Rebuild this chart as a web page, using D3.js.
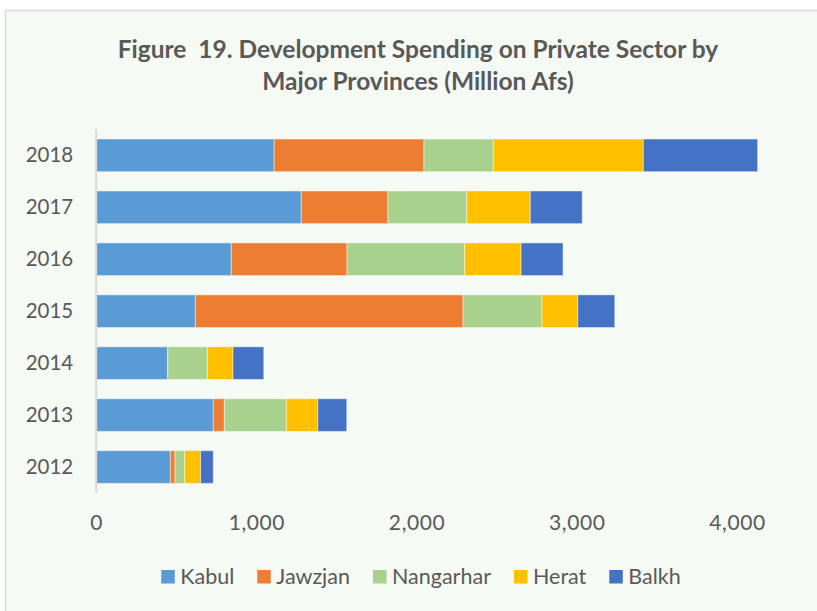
<!DOCTYPE html>
<html>
<head>
<meta charset="utf-8">
<script src="https://cdn.jsdelivr.net/npm/d3@7"></script>
<style>
  html, body { margin: 0; padding: 0; background: #ffffff; }
  svg { display: block; }
  text { font-family: Lato, "Open Sans", sans-serif; fill: #595959; white-space: pre; }
</style>
</head>
<body>
<script>
// Development spending on the private sector, million Afs
const years = ["2012", "2013", "2014", "2015", "2016", "2017", "2018"];
const provinces = ["Kabul", "Jawzjan", "Nangarhar", "Herat", "Balkh"];
const kabul     = [463, 731, 446, 619, 843, 1280, 1111];
const jawzjan   = [29, 69, 0, 1671, 723, 541, 935];
const nangarhar = [60, 387, 248, 493, 734, 492, 433];
const herat     = [100, 196, 160, 223, 352, 397, 936];
const balkh     = [79, 181, 192, 231, 262, 324, 714];
const xTicks = [0, 1000, 2000, 3000, 4000];
const colors = ["#5B9BD5", "#ED7D31", "#A9D18E", "#FFC000", "#4472C4"];
const titleLines = ["Figure  19. Development Spending on Private Sector by", "Major Provinces (Million Afs)"];

const W = 817, H = 611;
const rows = years.map((y, i) => ({
  year: y,
  Kabul: kabul[i], Jawzjan: jawzjan[i], Nangarhar: nangarhar[i], Herat: herat[i], Balkh: balkh[i]
}));

const svg = d3.select("body").append("svg").attr("width", W).attr("height", H);

// chart frame
svg.append("rect").attr("x", 5.5).attr("y", 10.5).attr("width", W).attr("height", H)
  .attr("fill", "#f5faf4").attr("stroke", "#d9d9d9").attr("stroke-width", 1.5);

// title
svg.append("g").selectAll("text").data(titleLines).join("text")
  .attr("x", 418).attr("y", (d, i) => 57.5 + i * 32)
  .attr("text-anchor", "middle").attr("font-weight", "bold").attr("font-size", 24.5)
  .attr("xml:space", "preserve")
  .text(d => d);

const plot = { left: 96.2, top: 129.4, bottom: 493 };
const x = d3.scaleLinear().domain([0, 4000]).range([plot.left, plot.left + 640.8]);
const y = d3.scaleBand().domain(years.slice().reverse()).range([plot.top, plot.bottom])
  .paddingInner(0.371).paddingOuter(0.1855);

const stack = d3.stack().keys(provinces)(rows);
const color = d3.scaleOrdinal().domain(provinces).range(colors);

svg.append("g").selectAll("g").data(stack).join("g")
  .attr("fill", d => color(d.key))
  .selectAll("rect").data(d => d).join("rect")
  .attr("x", d => x(d[0]))
  .attr("y", d => y(d.data.year))
  .attr("width", d => Math.max(0, x(d[1]) - x(d[0])))
  .attr("height", y.bandwidth())
  .attr("stroke", "#ffffff").attr("stroke-opacity", 0.45).attr("stroke-width", 1);

// value axis (labels only)
const xAxis = svg.append("g").attr("transform", `translate(0,${plot.bottom})`)
  .call(d3.axisBottom(x).tickValues(xTicks).tickFormat(d3.format(",")).tickSize(0).tickPadding(22));
xAxis.select(".domain").remove();
xAxis.selectAll("text").attr("font-size", 21).attr("font-family", "Lato, 'Open Sans', sans-serif")
  .attr("fill", "#595959").attr("letter-spacing", 0.6);

// category axis
const yAxis = svg.append("g").attr("transform", `translate(${plot.left},0)`)
  .call(d3.axisLeft(y).tickSize(0).tickPadding(23));
yAxis.select(".domain").attr("stroke", "#d9d9d9").attr("stroke-width", 2)
  .attr("d", `M0,${plot.top}V${plot.bottom}`);
yAxis.selectAll("text").attr("font-size", 20.5).attr("font-family", "Lato, 'Open Sans', sans-serif")
  .attr("fill", "#595959");

// legend
const legend = svg.append("g");
const sw = 13.5, gapText = 5.5, gapItem = 23;
let cx = 0;
provinces.forEach((p, i) => {
  const g = legend.append("g").attr("transform", `translate(${cx},0)`);
  g.append("rect").attr("x", 0).attr("y", 570).attr("width", sw).attr("height", sw).attr("fill", colors[i]);
  const t = g.append("text").attr("x", sw + gapText).attr("y", 584.3).attr("font-size", 21.5).text(p);
  cx += sw + gapText + t.node().getComputedTextLength() + gapItem;
});
const legW = cx - gapItem;
legend.attr("transform", `translate(${421 - legW / 2},0)`);
</script>
</body>
</html>
